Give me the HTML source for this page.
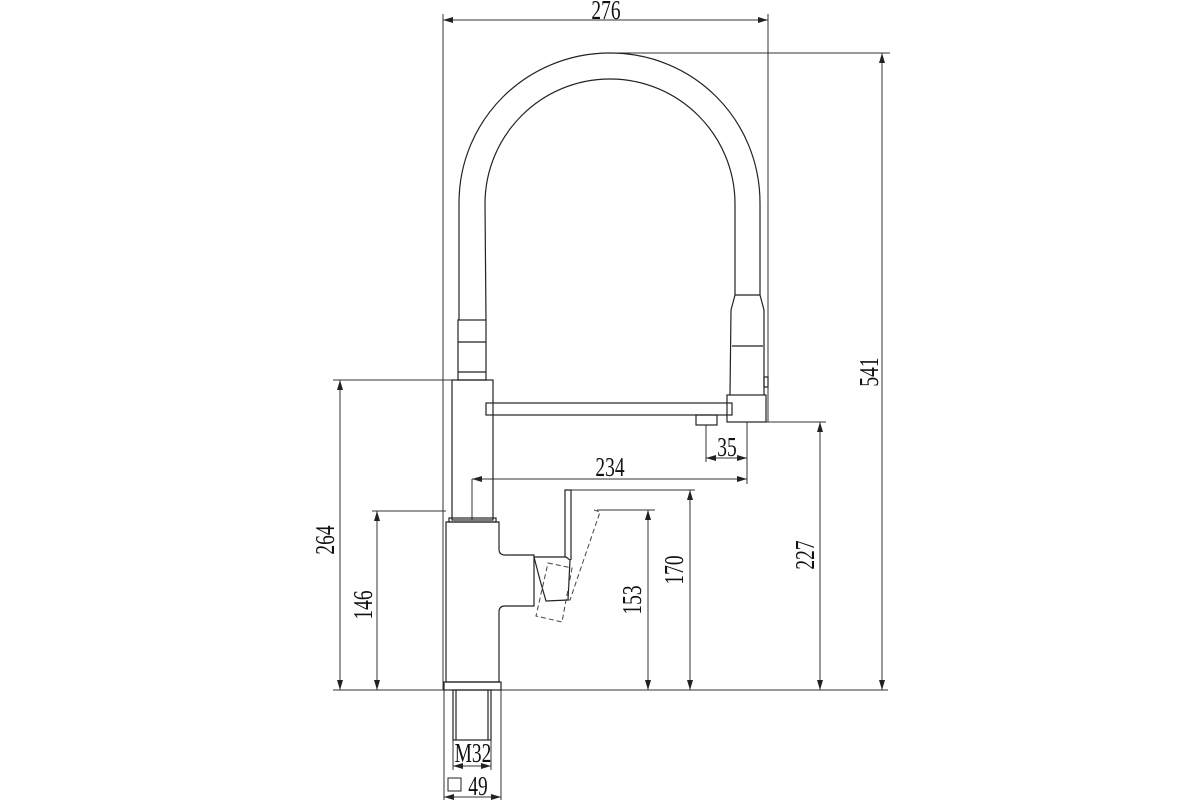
<!DOCTYPE html>
<html><head><meta charset="utf-8"><style>
html,body{margin:0;padding:0;background:#fff}
svg{display:block}
text{font-family:"Liberation Serif",serif;font-size:27px;fill:#111}
</style></head><body>
<svg width="1200" height="800" viewBox="0 0 1200 800" xmlns="http://www.w3.org/2000/svg">
<defs>
<marker id="a" viewBox="0 0 10 6" refX="10" refY="3" markerWidth="10" markerHeight="6" orient="auto-start-reverse" markerUnits="userSpaceOnUse"><path d="M0,0L10,3L0,6z" fill="#222"/></marker>
</defs>
<g stroke="#333" stroke-width="1" fill="none">
<line x1="443" y1="14" x2="443" y2="690"/>
<line x1="768" y1="14" x2="768" y2="422"/>
<line x1="610" y1="53" x2="890" y2="53"/>
<line x1="333" y1="380" x2="452" y2="380"/>
<line x1="372" y1="511" x2="446" y2="511"/>
<line x1="333" y1="690" x2="888" y2="690"/>
<line x1="766" y1="422" x2="826" y2="422"/>
<line x1="597" y1="510" x2="655" y2="510"/>
<line x1="571" y1="490" x2="695" y2="490"/>
<line x1="706" y1="425" x2="706" y2="462"/>
<line x1="747" y1="422" x2="747" y2="484"/>
<line x1="472" y1="479" x2="472" y2="520"/>
<line x1="444" y1="690" x2="444" y2="800"/>
<line x1="501" y1="690" x2="501" y2="800"/>
<line x1="453" y1="740" x2="453" y2="770"/>
<line x1="491" y1="740" x2="491" y2="770"/>
<line x1="443" y1="20" x2="768" y2="20" marker-start="url(#a)" marker-end="url(#a)"/>
<line x1="882" y1="53" x2="882" y2="690" marker-start="url(#a)" marker-end="url(#a)"/>
<line x1="340" y1="380" x2="340" y2="690" marker-start="url(#a)" marker-end="url(#a)"/>
<line x1="377" y1="511" x2="377" y2="690" marker-start="url(#a)" marker-end="url(#a)"/>
<line x1="648" y1="510" x2="648" y2="690" marker-start="url(#a)" marker-end="url(#a)"/>
<line x1="690" y1="490" x2="690" y2="690" marker-start="url(#a)" marker-end="url(#a)"/>
<line x1="820" y1="422" x2="820" y2="690" marker-start="url(#a)" marker-end="url(#a)"/>
<line x1="706" y1="458" x2="747" y2="458" marker-start="url(#a)" marker-end="url(#a)"/>
<line x1="472" y1="479" x2="747" y2="479" marker-start="url(#a)" marker-end="url(#a)"/>
<line x1="453" y1="766" x2="491" y2="766" marker-start="url(#a)" marker-end="url(#a)"/>
<line x1="444" y1="797" x2="501" y2="797" marker-start="url(#a)" marker-end="url(#a)"/>
</g>
<g stroke="#222" stroke-width="1.2" fill="none">
<path d="M459,320 L459,203 C459,120 526,53 610,53 C694,53 760,120 760,203 L760,295"/>
<path d="M486,320 L485,204 C485,135 541,79 610,79 C679,79 735,135 735,204 L735,295"/>
<rect x="458" y="320" width="28" height="60"/>
<line x1="458" y1="342" x2="486" y2="342"/>
<line x1="458" y1="372" x2="486" y2="372"/>
<rect x="452" y="380" width="41" height="140"/>
<rect x="486" y="403" width="246" height="12"/>
<rect x="696" y="415" width="21" height="10"/>
<path d="M735,295 L731,310 L730,395 M760,295 L764,310 L764,395"/>
<line x1="735" y1="295" x2="760" y2="295"/>
<line x1="732" y1="346" x2="763" y2="346"/>
<rect x="727" y="395" width="39" height="27"/>
<rect x="764" y="377" width="4" height="10"/>
<rect x="449" y="518" width="47" height="4"/>
<path d="M446,522 L499,522 L499,549 Q499,555 505,555 L534,555 L534,606 L505,606 Q499,606 499,612 L499,682 L446,682 Z"/>
<rect x="444" y="682" width="57" height="8"/>
<rect x="453" y="690" width="38" height="50"/>
<line x1="456" y1="690" x2="456" y2="740"/>
<line x1="488" y1="690" x2="488" y2="740"/>
<path d="M565,557 L565,490 L571,490 L571,560"/>
<path d="M534,557 L566,557 L570,560 L568,600 L546,601 L540,580 Z"/>
<rect x="448" y="778" width="13" height="13" stroke-width="1"/>
</g>
<g stroke="#444" stroke-width="1" fill="none" stroke-dasharray="5,3">
<path d="M594,510 L600,512 L570,600 L565,600"/>
<path d="M548,563 L572,568 L562,622 L536,616 Z"/>
</g>
<text x="606" y="19" text-anchor="middle" transform="translate(606,0) scale(0.72,1) translate(-606,0)">276</text>
<text x="727" y="456" text-anchor="middle" transform="translate(727,0) scale(0.72,1) translate(-727,0)">35</text>
<text x="610" y="476" text-anchor="middle" transform="translate(610,0) scale(0.72,1) translate(-610,0)">234</text>
<text x="473" y="762" text-anchor="middle" transform="translate(473,0) scale(0.72,1) translate(-473,0)">M32</text>
<text x="478" y="795" text-anchor="middle" transform="translate(478,0) scale(0.72,1) translate(-478,0)">49</text>
<text transform="translate(334,540) rotate(-90) scale(0.72,1)" text-anchor="middle">264</text>
<text transform="translate(372,605) rotate(-90) scale(0.72,1)" text-anchor="middle">146</text>
<text transform="translate(641,600) rotate(-90) scale(0.72,1)" text-anchor="middle">153</text>
<text transform="translate(683,570) rotate(-90) scale(0.72,1)" text-anchor="middle">170</text>
<text transform="translate(814,555) rotate(-90) scale(0.72,1)" text-anchor="middle">227</text>
<text transform="translate(878,372) rotate(-90) scale(0.72,1)" text-anchor="middle">541</text>
</svg>
</body></html>
